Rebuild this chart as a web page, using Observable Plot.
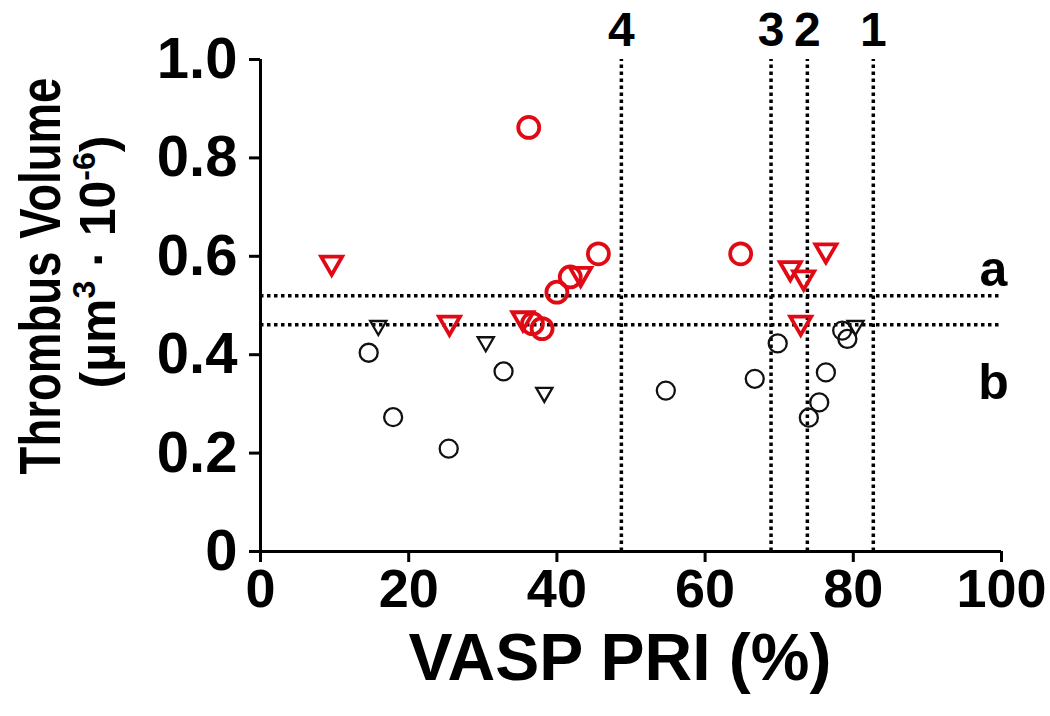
<!DOCTYPE html>
<html><head><meta charset="utf-8">
<script src="https://cdn.jsdelivr.net/npm/d3@7"></script>
<script src="https://cdn.jsdelivr.net/npm/@observablehq/plot@0.6"></script>
<style>html,body{margin:0;padding:0;background:#fff}#chart svg{display:block}</style>
</head><body><div id="chart"></div>
<script>
// ---- data ----
const xTicks = [0, 20, 40, 60, 80, 100];
const yTicks = [0, 0.2, 0.4, 0.6, 0.8, 1.0];

const redCircleX = [36.2, 45.6, 41.8, 40.0, 36.7, 38.0, 64.8];
const redCircleY = [0.862, 0.605, 0.558, 0.527, 0.463, 0.453, 0.605];

const redTriX = [9.6, 25.5, 35.4, 43.2, 71.5, 73.3, 72.9, 76.3];
const redTriY = [0.587, 0.465, 0.474, 0.564, 0.576, 0.557, 0.465, 0.612];

const blackCircleX = [14.6, 17.9, 25.4, 32.8, 54.7, 66.7, 69.8, 74.0, 75.4, 76.3, 78.5, 79.2];
const blackCircleY = [0.404, 0.273, 0.209, 0.366, 0.327, 0.351, 0.423, 0.272, 0.303, 0.364, 0.449, 0.432];

const blackTriX = [15.9, 30.4, 38.3, 80.3];
const blackTriY = [0.459, 0.426, 0.323, 0.459];

const hLineY = [0.520, 0.461];
const hLineLabels = ["a", "b"];
const vLineX = [48.7, 68.9, 73.8, 82.7];
const vLineLabels = ["4", "3", "2", "1"];

const xLabel = "VASP PRI (%)";
const yLabel1 = "Thrombus Volume";

// ---- build rows ----
const zip = (xs, ys) => xs.map((x, i) => ({x, y: ys[i]}));
const redCircles = zip(redCircleX, redCircleY);
const redTris = zip(redTriX, redTriY);
const blackCircles = zip(blackCircleX, blackCircleY);
const blackTris = zip(blackTriX, blackTriY);
const hLines = hLineY.map((y, i) => ({y, label: hLineLabels[i]}));
const vLines = vLineX.map((x, i) => ({x, label: vLineLabels[i]}));

const RED = "#e10a14";
const FONT = "'Liberation Sans', Arial, Helvetica, sans-serif";

const plot = Plot.plot({
  width: 1050,
  height: 716,
  marginLeft: 260,
  marginRight: 49,
  marginTop: 59,
  marginBottom: 165,
  style: {fontFamily: FONT, fontWeight: "bold", background: "#fff", color: "#000"},
  x: {domain: [0, 100]},
  y: {domain: [0, 1]},
  marks: [
    Plot.ruleY(hLines, {y: "y", x1: 0, x2: 100, stroke: "#000", strokeWidth: 3.5, strokeDasharray: "3.5,3.5"}),
    Plot.ruleX(vLines, {x: "x", y1: 0, y2: 1, stroke: "#000", strokeWidth: 3.5, strokeDasharray: "3.5,3.5"}),
    Plot.text(vLines, {x: "x", text: "label", frameAnchor: "top", lineAnchor: "middle", dy: -29, fontSize: 48, fontWeight: "bold", fill: "#000"}),
    Plot.text(hLines.slice(0, 1), {y: "y", text: "label", frameAnchor: "right", textAnchor: "middle", lineAnchor: "middle", dx: -8, dy: -26, fontSize: 50, fontWeight: "bold", fill: "#000"}),
    Plot.text(hLines.slice(1, 2), {y: "y", text: "label", frameAnchor: "right", textAnchor: "middle", lineAnchor: "middle", dx: -8, dy: 58, fontSize: 50, fontWeight: "bold", fill: "#000"}),
    Plot.ruleX([0], {y1: 0, y2: 1, stroke: "#000", strokeWidth: 3}),
    Plot.ruleY([0], {x1: 0, x2: 100, stroke: "#000", strokeWidth: 3}),
    Plot.axisX({ticks: xTicks, tickSize: 11, tickPadding: 6, strokeWidth: 3, fontSize: 54, fontWeight: "bold", label: null, tickFormat: d3.format("d")}),
    Plot.axisY({ticks: yTicks, tickSize: 11, tickPadding: 12, strokeWidth: 3, fontSize: 58, fontWeight: "bold", label: null,
      tickFormat: (d) => d === 0 ? "0" : d.toFixed(1)}),
    Plot.dot(blackCircles, {x: "x", y: "y", r: 9, stroke: "#111", strokeWidth: 2.3, fill: "none"}),
    Plot.dot(blackTris, {x: "x", y: "y", symbol: "triangle", rotate: 180, r: 6, stroke: "#111", strokeWidth: 2.3, fill: "none"}),
    Plot.dot(redTris, {x: "x", y: "y", symbol: "triangle", rotate: 180, r: 7.8, stroke: RED, strokeWidth: 3.8, fill: "none"}),
    Plot.dot(redCircles, {x: "x", y: "y", r: 10.5, stroke: RED, strokeWidth: 3.8, fill: "none"})
  ]
});

document.getElementById("chart").appendChild(plot);

// axis titles
const svg = d3.select(plot);
svg.append("text")
  .attr("x", 620).attr("y", 680)
  .attr("text-anchor", "middle")
  .style("font-family", FONT).style("font-weight", "bold").style("font-size", "66px")
  .text(xLabel);

svg.append("text")
  .attr("transform", "translate(60,276) rotate(-90) scale(0.8,1)")
  .attr("text-anchor", "middle")
  .style("font-family", FONT).style("font-weight", "bold").style("font-size", "57px")
  .text(yLabel1);

const t2 = svg.append("text")
  .attr("transform", "translate(115,262) rotate(-90)")
  .attr("text-anchor", "middle")
  .style("font-family", FONT).style("font-weight", "bold").style("font-size", "50px");
t2.append("tspan").text("(µm");
t2.append("tspan").attr("dy", -20).style("font-size", "32px").text("3");
t2.append("tspan").attr("dy", 20).text(" · 10");
t2.append("tspan").attr("dy", -20).style("font-size", "32px").text("-6");
t2.append("tspan").attr("dy", 20).text(")");
</script>
</body></html>
